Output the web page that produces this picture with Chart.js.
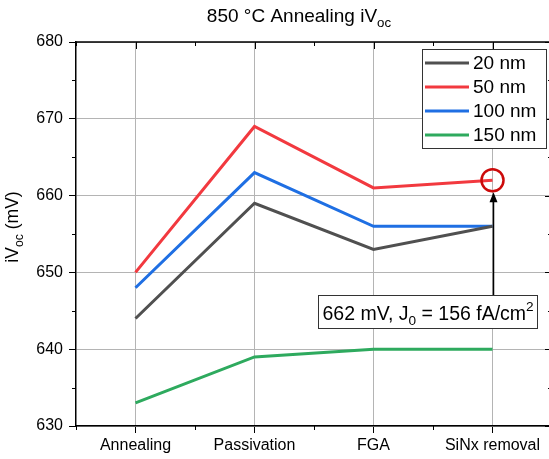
<!DOCTYPE html>
<html>
<head>
<meta charset="utf-8">
<script src="https://cdn.jsdelivr.net/npm/chart.js@4/dist/chart.umd.min.js"></script>
<style>
  html, body { margin: 0; padding: 0; background: #fff; overflow: hidden; width: 549px; height: 459px; }
  #wrap { width: 560px; height: 459px; position: relative; }
</style>
</head>
<body>
<div id="wrap"><canvas id="c" width="560" height="459"></canvas></div>
<script>
// Process steps and implied Voc (mV) for each SiNx thickness
const steps = ['Annealing', 'Passivation', 'FGA', 'SiNx removal'];
const seriesNames = ['20 nm', '50 nm', '100 nm', '150 nm'];
const ivoc20nm  = [644, 659, 653, 656];
const ivoc50nm  = [650, 669, 661, 662];
const ivoc100nm = [648, 663, 656, 656];
const ivoc150nm = [633, 639, 640, 640];
const yTickValues = [630, 640, 650, 660, 670, 680];
const yMinorValues = [635, 645, 655, 665, 675];

// Highlighted result: 50 nm after SiNx removal
const noteSeries = 1;
const noteStep = 3;
const noteJ0 = 156;

const colors = ['#505050', '#f2393f', '#1f6fe3', '#2eaa5e'];
const FONT = 'Arial, "Liberation Sans", sans-serif';

function richWidth(ctx, parts, size) {
  let w = 0;
  for (const p of parts) {
    ctx.font = (p.sub || p.sup ? size * 0.7 : size) + 'px ' + FONT;
    w += ctx.measureText(p.t).width;
  }
  return w;
}
function drawRich(ctx, parts, x, y, size) {
  let cx = x;
  ctx.textBaseline = 'alphabetic';
  ctx.textAlign = 'left';
  for (const p of parts) {
    const s = p.sub || p.sup ? size * 0.7 : size;
    ctx.font = s + 'px ' + FONT;
    let dy = 0;
    if (p.sub) dy = size * 0.28;
    if (p.sup) dy = -size * 0.42;
    ctx.fillText(p.t, cx, y + dy);
    cx += ctx.measureText(p.t).width;
  }
}

const decorations = {
  id: 'decorations',
  afterDraw(chart) {
    const ctx = chart.ctx;
    const a = chart.chartArea;
    const xs = chart.scales.x, ys = chart.scales.y;
    ctx.save();
    ctx.fillStyle = '#000';
    ctx.strokeStyle = '#000';

    // Title
    const title = [{t: '850 °C Annealing iV'}, {t: 'oc', sub: true}];
    const tw = richWidth(ctx, title, 19);
    drawRich(ctx, title, 299 - tw / 2, 22, 19);

    // Y axis title, rotated
    const yl = [{t: 'iV'}, {t: 'oc', sub: true}, {t: ' (mV)'}];
    const yw = richWidth(ctx, yl, 17.5);
    ctx.save();
    ctx.translate(18, (a.top + a.bottom) / 2 - 7);
    ctx.rotate(-Math.PI / 2);
    drawRich(ctx, yl, -yw / 2, 0, 17.5);
    ctx.restore();

    // Top and right frame lines
    ctx.lineWidth = 1.5;
    ctx.beginPath();
    ctx.moveTo(a.left, a.top); ctx.lineTo(a.right, a.top);
    ctx.moveTo(a.right, a.top); ctx.lineTo(a.right, a.bottom);
    ctx.stroke();

    ctx.lineWidth = 1;
    ctx.beginPath();
    const half = (xs.getPixelForValue(1) - xs.getPixelForValue(0)) / 2;
    // Category ticks: inward on top
    steps.forEach((s, i) => {
      const px = Math.round(xs.getPixelForValue(i)) + 0.5;
      ctx.moveTo(px, a.top); ctx.lineTo(px, a.top + 7);
    });
    // Minor x ticks between categories: outward bottom, inward top
    for (let i = -1; i < steps.length; i++) {
      const px = Math.round(xs.getPixelForValue(i) + half) + 0.5;
      ctx.moveTo(px, a.bottom); ctx.lineTo(px, a.bottom + 4);
      ctx.moveTo(px, a.top); ctx.lineTo(px, a.top + 4);
    }
    // Y ticks on the right (inward), minor on both sides
    yTickValues.forEach(v => {
      const py = Math.round(ys.getPixelForValue(v)) + 0.5;
      ctx.moveTo(a.right, py); ctx.lineTo(a.right - 7, py);
    });
    yMinorValues.forEach(v => {
      const py = Math.round(ys.getPixelForValue(v)) + 0.5;
      ctx.moveTo(a.left, py); ctx.lineTo(a.left - 4, py);
      ctx.moveTo(a.right, py); ctx.lineTo(a.right - 4, py);
    });
    ctx.stroke();

    // Legend box
    const lx = 422, ly = 49, lw = 124, lh = 99;
    ctx.fillStyle = '#fff';
    ctx.fillRect(lx, ly, lw, lh);
    ctx.strokeStyle = '#333';
    ctx.lineWidth = 1;
    ctx.strokeRect(lx + 0.5, ly + 0.5, lw, lh);
    chart.data.datasets.forEach((ds, i) => {
      const ry = ly + 14 + i * 24;
      ctx.strokeStyle = ds.borderColor;
      ctx.lineWidth = 3;
      ctx.beginPath();
      ctx.moveTo(lx + 3, ry); ctx.lineTo(lx + 47, ry);
      ctx.stroke();
      ctx.fillStyle = '#000';
      ctx.font = '19px ' + FONT;
      ctx.textBaseline = 'middle';
      ctx.textAlign = 'left';
      ctx.fillText(ds.label, lx + 51, ry + 1);
    });

    // Highlight circle, arrow and note box
    const val = chart.data.datasets[noteSeries].data[noteStep];
    const cx = xs.getPixelForValue(noteStep);
    const cy = ys.getPixelForValue(val);
    const r = 11;
    ctx.strokeStyle = '#cc0a0a';
    ctx.lineWidth = 2.5;
    ctx.beginPath();
    ctx.arc(cx, cy, r, 0, Math.PI * 2);
    ctx.stroke();

    const boxTop = Math.round(ys.getPixelForValue(647)) + 0.5;
    const note = [{t: val + ' mV, J'}, {t: '0', sub: true}, {t: ' = ' + noteJ0 + ' fA/cm'}, {t: '2', sup: true}];
    const nw = richWidth(ctx, note, 19.5);
    const bw = Math.round(nw + 8), bh = 33;
    const bx = Math.round(cx + 44 - bw) + 0.5;

    // Arrow
    const ax = Math.round(cx) + 0.5;
    const tipY = cy + r + 1;
    ctx.strokeStyle = '#000';
    ctx.fillStyle = '#000';
    ctx.lineWidth = 1.5;
    ctx.beginPath();
    ctx.moveTo(ax, boxTop); ctx.lineTo(ax, tipY + 8);
    ctx.stroke();
    ctx.beginPath();
    ctx.moveTo(ax, tipY); ctx.lineTo(ax - 4, tipY + 10); ctx.lineTo(ax + 4, tipY + 10);
    ctx.closePath();
    ctx.fill();

    ctx.fillStyle = '#fff';
    ctx.fillRect(bx, boxTop, bw, bh);
    ctx.strokeStyle = '#333';
    ctx.lineWidth = 1;
    ctx.strokeRect(bx, boxTop, bw, bh);
    ctx.fillStyle = '#000';
    drawRich(ctx, note, bx + 4, boxTop + 24, 19.5);

    ctx.restore();
  }
};

const allSeries = [ivoc20nm, ivoc50nm, ivoc100nm, ivoc150nm];

new Chart(document.getElementById('c'), {
  type: 'line',
  data: {
    labels: steps,
    datasets: allSeries.map((d, i) => ({
      label: seriesNames[i],
      data: d,
      borderColor: colors[i],
      backgroundColor: colors[i],
      borderWidth: 3,
      pointRadius: 0,
      tension: 0,
      fill: false
    }))
  },
  options: {
    responsive: false,
    devicePixelRatio: 1,
    animation: false,
    layout: { padding: { left: 0, top: 42, right: 8, bottom: 0 } },
    plugins: {
      legend: { display: false },
      title: { display: false },
      tooltip: { enabled: false }
    },
    scales: {
      x: {
        type: 'category',
        offset: true,
        grid: { offset: false, color: '#b4b4b4', lineWidth: 1, tickColor: '#000', tickLength: 7, drawTicks: true },
        border: { color: '#000', width: 1.5 },
        ticks: { color: '#000', font: { family: FONT, size: 16 }, padding: 3, maxRotation: 0, autoSkip: false },
        afterFit: s => { s.height = 33; }
      },
      y: {
        min: 630, max: 680,
        afterBuildTicks: s => { s.ticks = yTickValues.map(v => ({ value: v })); },
        grid: { color: '#b4b4b4', lineWidth: 1, tickColor: '#000', tickLength: 7 },
        border: { color: '#000', width: 1.5 },
        ticks: { color: '#000', font: { family: FONT, size: 16 }, padding: 6 },
        afterFit: s => { s.width = 76; }
      }
    }
  },
  plugins: [decorations]
});
</script>
</body>
</html>
